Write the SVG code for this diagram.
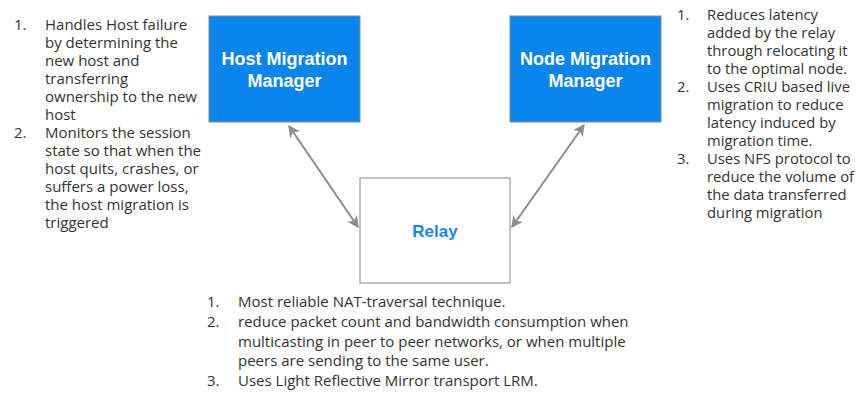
<svg xmlns="http://www.w3.org/2000/svg" width="859" height="394" viewBox="0 0 859 394">
  <style>
    .mgr rect { fill: #0a85ed; stroke: #7a8a99; stroke-width: 1; }
    .mgr text { fill: #ffffff; font-family: "Liberation Sans", Arial, sans-serif; font-weight: bold; font-size: 18px; text-anchor: middle; }
    .relay rect { fill: #ffffff; stroke: #999999; stroke-width: 1.2; }
    .relay text { fill: #1a86e8; font-family: "Liberation Sans", Arial, sans-serif; font-weight: bold; font-size: 17px; text-anchor: middle; }
    .note { fill: #333333; font-family: "Open Sans", "Noto Sans", sans-serif; font-size: 15px; }
    .noteR { fill: #333333; font-family: "Open Sans", "Noto Sans", sans-serif; font-size: 14.8px; }
    .note2 { fill: #333333; font-family: "Open Sans", "Noto Sans", sans-serif; font-size: 15px; }
    .link { stroke: #8c8c8c; stroke-width: 2; fill: none; marker-start: url(#tip); marker-end: url(#tip); }
  </style>
  <defs>
    <marker id="tip" viewBox="0 0 10 10" refX="9" refY="5" markerWidth="6" markerHeight="6" orient="auto-start-reverse" markerUnits="strokeWidth">
      <path d="M0,0 L10,5 L0,10 L3,5 Z" fill="#8c8c8c"/>
    </marker>
  </defs>

  <!-- managers and relay -->
  <g id="host-migration-manager" class="mgr">
    <rect x="209" y="16" width="151" height="106"/>
    <text x="284.5" y="65">Host Migration</text>
    <text x="284.5" y="87">Manager</text>
  </g>
  <g id="node-migration-manager" class="mgr">
    <rect x="510" y="16" width="151" height="106"/>
    <text x="585.5" y="65">Node Migration</text>
    <text x="585.5" y="87">Manager</text>
  </g>
  <g id="relay" class="relay">
    <rect x="360" y="178" width="150" height="105"/>
    <text x="435" y="237">Relay</text>
  </g>

  <!-- connectors -->
  <g id="connectors">
    <line class="link" x1="289" y1="126" x2="358" y2="227"/>
    <line class="link" x1="584" y1="125" x2="512" y2="227"/>
  </g>

  <!-- host migration notes -->
  <g id="host-notes" class="note">
    <text x="14" y="30">1.</text>
    <text x="45" y="30">Handles Host failure</text>
    <text x="45" y="48">by determining the</text>
    <text x="45" y="66">new host and</text>
    <text x="45" y="84">transferring</text>
    <text x="45" y="102">ownership to the new</text>
    <text x="45" y="120">host</text>
    <text x="14" y="138">2.</text>
    <text x="45" y="138">Monitors the session</text>
    <text x="45" y="156">state so that when the</text>
    <text x="45" y="174">host quits, crashes, or</text>
    <text x="45" y="192">suffers a power loss,</text>
    <text x="45" y="210">the host migration is</text>
    <text x="45" y="228">triggered</text>
  </g>

  <!-- node migration notes -->
  <g id="node-notes" class="noteR">
    <text x="677" y="20">1.</text>
    <text x="707" y="20">Reduces latency</text>
    <text x="707" y="38">added by the relay</text>
    <text x="707" y="56">through relocating it</text>
    <text x="707" y="74">to the optimal node.</text>
    <text x="677" y="92">2.</text>
    <text x="707" y="92">Uses CRIU based live</text>
    <text x="707" y="110">migration to reduce</text>
    <text x="707" y="128">latency induced by</text>
    <text x="707" y="146">migration time.</text>
    <text x="677" y="164">3.</text>
    <text x="707" y="164">Uses NFS protocol to</text>
    <text x="707" y="182">reduce the volume of</text>
    <text x="707" y="200">the data transferred</text>
    <text x="707" y="218">during migration</text>
  </g>

  <!-- relay notes -->
  <g id="relay-notes" class="note2">
    <text x="207" y="307">1.</text>
    <text x="238" y="307">Most reliable NAT-traversal technique.</text>
    <text x="207" y="327">2.</text>
    <text x="238" y="327">reduce packet count and bandwidth consumption when</text>
    <text x="238" y="347">multicasting in peer to peer networks, or when multiple</text>
    <text x="238" y="366">peers are sending to the same user.</text>
    <text x="207" y="386">3.</text>
    <text x="238" y="386">Uses Light Reflective Mirror transport LRM.</text>
  </g>
</svg>
